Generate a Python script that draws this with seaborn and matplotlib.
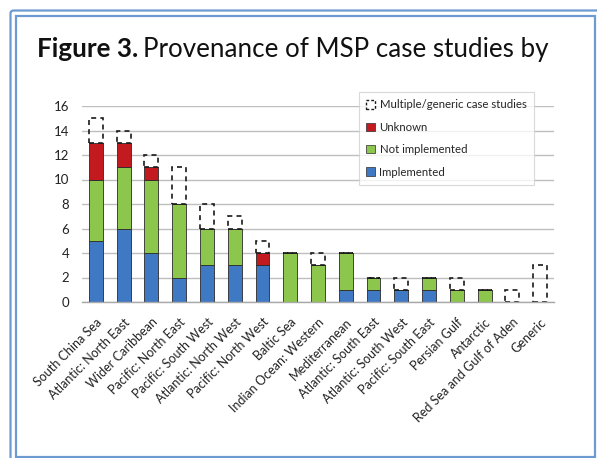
import numpy as np
import pandas as pd
import matplotlib
matplotlib.use("Agg")
import matplotlib.pyplot as plt
import seaborn as sns
from matplotlib.patches import Patch, FancyBboxPatch

categories = ["South China Sea", "Atlantic: North East", "Wider Caribbean",
              "Pacific: North East", "Pacific: South West", "Atlantic: North West",
              "Pacific: North West", "Baltic Sea", "Indian Ocean: Western",
              "Mediterranean", "Atlantic: South East", "Atlantic: South West",
              "Pacific: South East", "Persian Gulf", "Antarctic",
              "Red Sea and Gulf of Aden", "Generic"]
implemented = [5, 6, 4, 2, 3, 3, 3, 0, 0, 1, 1, 1, 1, 0, 0, 0, 0]
not_implemented = [5, 5, 6, 6, 3, 3, 0, 4, 3, 3, 1, 0, 1, 1, 1, 0, 0]
unknown = [3, 2, 1, 0, 0, 0, 1, 0, 0, 0, 0, 0, 0, 0, 0, 0, 0]
multiple = [2, 1, 1, 3, 2, 1, 1, 0, 1, 0, 0, 1, 0, 1, 0, 1, 3]
y_ticks = [0, 2, 4, 6, 8, 10, 12, 14, 16]

sns.set_style("white")
plt.rcParams['font.family'] = ['Lato', 'DejaVu Sans']

W, H = 597, 458
fig = plt.figure(figsize=(W / 100, H / 100), dpi=100)

# Double blue frame
frame_col = "#6C9BD2"
outer = FancyBboxPatch((10.5 / W, -10 / H), (W + 20) / W, (H - 0.5) / H,
                       boxstyle="round,pad=0,rounding_size=0.006",
                       transform=fig.transFigure, fill=False,
                       edgecolor=frame_col, linewidth=1.6)
inner = FancyBboxPatch((15.5 / W, 1.5 / H), (595 - 15.5) / W, (H - 15.5 - 1.5) / H,
                       boxstyle="square,pad=0", transform=fig.transFigure,
                       fill=False, edgecolor=frame_col, linewidth=1.6)
fig.patches.extend([outer, inner])

ax = fig.add_axes([82 / W, 1 - 302 / H, (554 - 82) / W, (302 - 106) / H])

df = pd.DataFrame({"category": categories,
                   "Implemented": implemented,
                   "Not implemented": not_implemented,
                   "Unknown": unknown,
                   "Multiple": multiple})
df["b1"] = df["Implemented"]
df["b2"] = df["Implemented"] + df["Not implemented"]
df["b3"] = df["b2"] + df["Unknown"]

blue, green, red = "#3F78C3", "#8DC64C", "#C21A1E"
edge = "#2B2B2B"
bw = 0.5

sns.barplot(data=df, x="category", y="Implemented", color=blue, ax=ax,
            width=bw, edgecolor=edge, linewidth=0.6, saturation=1, order=categories)
sns.barplot(data=df, x="category", y="Not implemented", color=green, ax=ax,
            width=bw, edgecolor=edge, linewidth=0.6, saturation=1, order=categories,
            bottom=df["b1"].values)
sns.barplot(data=df, x="category", y="Unknown", color=red, ax=ax,
            width=bw, edgecolor=edge, linewidth=0.6, saturation=1, order=categories,
            bottom=df["b2"].values)
sns.barplot(data=df, x="category", y="Multiple", color="white", ax=ax,
            width=bw, edgecolor="#1A1A1A", linewidth=1.2, saturation=1,
            order=categories, bottom=df["b3"].values, fill=False,
            linestyle=(0, (3, 2.5)))

ax.set_ylim(0, 16)
ax.set_xlim(-0.5, len(categories) - 0.5)
ax.set_yticks(y_ticks)
ax.yaxis.grid(True, color="#BEBEBE", linewidth=1.0)
ax.set_axisbelow(True)
for s in ["top", "right", "left"]:
    ax.spines[s].set_visible(False)
ax.spines["bottom"].set_color("#A8A8A8")
ax.spines["bottom"].set_linewidth(1.0)
ax.set_xlabel("")
ax.set_ylabel("")
ax.tick_params(axis="y", length=4, width=1.0, color="#BEBEBE", pad=5,
               labelsize=9.5, labelcolor="#222222")
ax.set_xticks(np.arange(len(categories)))
ax.set_xticklabels(categories, rotation=45, ha="right", rotation_mode="anchor",
                   fontsize=9, color="#222222")
ax.tick_params(axis="x", length=0, pad=10)
# boundary tick marks (between categories)
ax.set_xticks(np.arange(-0.5, len(categories), 1), minor=True)
ax.tick_params(axis="x", which="minor", length=4, color="#A8A8A8", width=1.0)

handles = [Patch(facecolor="white", edgecolor="#1A1A1A", linestyle=(0, (2, 1.5)),
                 linewidth=1.0, label="Multiple/generic case studies"),
           Patch(facecolor=red, edgecolor=edge, linewidth=0.5, label="Unknown"),
           Patch(facecolor=green, edgecolor=edge, linewidth=0.5, label="Not implemented"),
           Patch(facecolor=blue, edgecolor=edge, linewidth=0.5, label="Implemented")]
leg = fig.legend(handles=handles, loc="upper left",
                 bbox_to_anchor=(359 / W, 1 - 92 / H), fontsize=8.2,
                 frameon=True, fancybox=False, edgecolor="#D0D0D0",
                 handlelength=0.75, handleheight=0.75, handletextpad=0.4,
                 labelspacing=1.0, borderpad=0.65, borderaxespad=0)
leg.get_frame().set_linewidth(0.8)

# Title: bold part + regular part
t1 = fig.text(37 / W, 1 - 57 / H, "Figure 3.", fontsize=18.7, fontweight="bold",
              va="baseline", ha="left", color="#111111")
fig.canvas.draw()
bb = t1.get_window_extent()
fig.text(bb.x1 / W + 5 / W, 1 - 57 / H, "Provenance of MSP case studies by",
         fontsize=18.7, va="baseline", ha="left", color="#111111")

fig.savefig("out.png", dpi=100)
